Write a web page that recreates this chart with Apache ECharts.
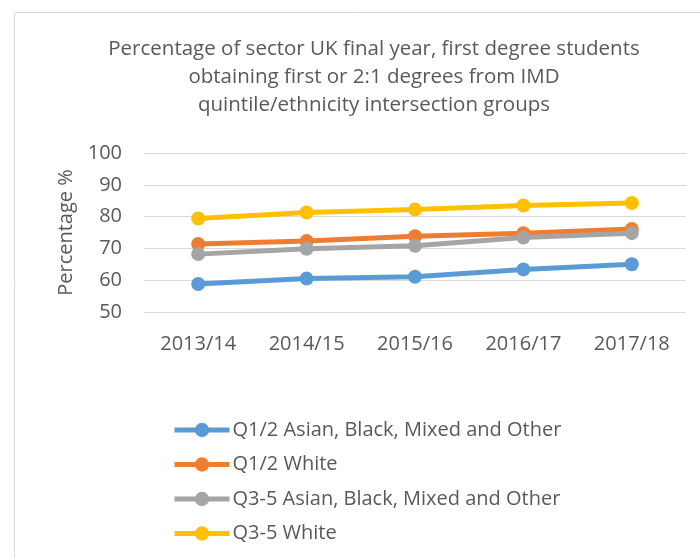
<!DOCTYPE html>
<html>
<head>
<meta charset="utf-8">
<script src="https://cdn.jsdelivr.net/npm/echarts@6/dist/echarts.min.js"></script>
<style>
  html, body { margin: 0; padding: 0; background: #fff; }
  #chart { width: 700px; height: 558px; }
</style>
</head>
<body>
<div id="chart"></div>
<script>
var years = ['2013/14', '2014/15', '2015/16', '2016/17', '2017/18'];
var seriesNames = [
    'Q1/2 Asian, Black, Mixed and Other',
    'Q1/2 White',
    'Q3-5 Asian, Black, Mixed and Other',
    'Q3-5 White'
];
var q12Bame = [58.8, 60.5, 61.1, 63.4, 65.0];
var q12White = [71.4, 72.3, 73.8, 74.8, 76.1];
var q35Bame = [68.2, 69.9, 70.8, 73.4, 74.8];
var q35White = [79.4, 81.3, 82.2, 83.5, 84.3];
var colors = ['#5B9BD5', '#ED7D31', '#A5A5A5', '#FFC000'];

var font = 'Open Sans';
var txt = '#595959';

var allData = [q12Bame, q12White, q35Bame, q35White];
var series = [];
for (var i = 0; i < allData.length; i++) {
    series.push({
        name: seriesNames[i],
        type: 'line',
        data: allData[i],
        symbol: 'circle',
        symbolSize: 14,
        lineStyle: { width: 5, color: colors[i] },
        itemStyle: { color: colors[i] },
        z: 10 + i
    });
}

var myChart = echarts.init(document.getElementById('chart'));
var option = {
    backgroundColor: '#fff',
    animation: false,
    color: colors,
    graphic: [{
        type: 'rect',
        shape: { x: 14.5, y: 12.5, width: 720, height: 600 },
        style: { fill: 'none', stroke: '#D9D9D9', lineWidth: 1 },
        silent: true
    }],
    title: {
        text: 'Percentage of sector UK final year, first degree students\nobtaining first or 2:1 degrees from IMD\nquintile/ethnicity intersection groups',
        left: 369,
        top: 30,
        textAlign: 'center',
        textStyle: {
            fontFamily: font,
            fontSize: 20.5,
            fontWeight: 'normal',
            color: txt,
            lineHeight: 28
        }
    },
    grid: {
        left: 144,
        right: 14,
        top: 153,
        bottom: 246,
        containLabel: false
    },
    legend: {
        orient: 'vertical',
        left: 167,
        top: 415,
        height: 160,
        itemWidth: 55,
        itemHeight: 18,
        itemGap: 14.5,
        data: seriesNames,
        lineStyle: { width: 5 },
        textStyle: { fontFamily: font, fontSize: 20, lineHeight: 20, color: txt, padding: [0, 0, 0, -2] }
    },
    xAxis: {
        type: 'category',
        data: years,
        boundaryGap: true,
        axisLine: { show: false },
        axisTick: { show: false },
        axisLabel: { fontFamily: font, fontSize: 20, color: txt, margin: 22 }
    },
    yAxis: {
        type: 'value',
        min: 50,
        max: 100,
        interval: 10,
        name: 'Percentage %',
        nameLocation: 'middle',
        nameGap: 66,
        nameTextStyle: { fontFamily: font, fontSize: 20, color: txt },
        axisLine: { show: false },
        axisTick: { show: false },
        axisLabel: { fontFamily: font, fontSize: 20, color: txt, margin: 22 },
        splitLine: { lineStyle: { color: '#D9D9D9', width: 1 } }
    },
    series: series
};
myChart.setOption(option);
</script>
</body>
</html>
